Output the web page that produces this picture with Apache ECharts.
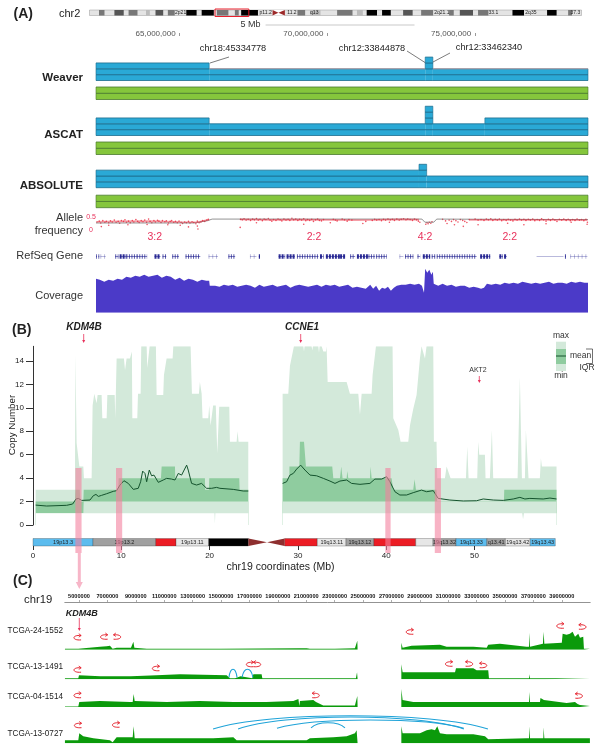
<!DOCTYPE html>
<html><head><meta charset="utf-8">
<style>html,body{margin:0;padding:0;background:#fff}#c{width:602px;height:751px}</style>
<script src="https://cdn.jsdelivr.net/npm/echarts@6/dist/echarts.min.js"></script></head>
<body><div id="c"></div>
<script>
/* ---------- Panel A data (chr2, Mb) ---------- */
const ideogramBands=[[4.7,7.4,'g'],[12.3,16.9,'d'],[19.3,23.7,'g'],[27.9,29.8,'m'],[32.6,36.4,'d'],[38.7,42.1,'g'],[47.8,52.9,'k'],[55.4,61.4,'k'],[62.9,68.6,'g'],[71.8,73.7,'g'],[74.9,83.2,'k'],[102.7,106.5,'g'],[109,114.1,'m'],[122.3,129.9,'g'],[132.1,135,'m'],[136.9,142,'k'],[144.5,148.8,'k'],[154.9,159.6,'d'],[163.8,169.7,'g'],[177.6,179.9,'g'],[182.9,189.4,'d'],[191.9,197,'g'],[208.9,214.6,'k'],[226,230.7,'k'],[236.4,238.3,'g']];
const ideogramLabels=[[45,'2p21'],[87,'p11.2'],[100,'11.2'],[111,'q13'],[174,'2q21.1'],[199.5,'33.1'],[218,'2q35'],[240,'37.3']];
const ideogramCentromere=[90.4,93.3,96.5];
const ideogramView=[62,78.7];
const genomeTicks=[65,70,75];
const weaverTotal=[[62.17,66,3],[66,73.31,2],[73.31,73.57,4],[73.57,78.82,2]];
const weaverLossA=[[66,2],[73.31,2]];
const weaverLossB=[[73.57,2],[78.82,2]];
const ascatTotal=[[62.17,66,3],[66,73.31,2],[73.31,73.57,5],[73.57,75.33,2],[75.33,78.82,3]];
const absoluteTotal=[[62.17,73.1,3],[73.1,73.36,4],[73.36,78.82,2]];
const minorAllele=[[62.17,78.82,2]];
const afLine=[[62.17,.27],[65.5,.27],[65.95,.36],[66.1,.42],[73.2,.42],[73.3,.3],[73.6,.3],[73.7,.42],[78.82,.4]];
const afBandLeft=[[62.2,.32],[63,.33],[64,.34],[65,.31],[65.6,.3],[66,.4]];
const afBandMid=[[67.05,.41],[68,.39],[69,.4],[70,.39],[71,.38],[71.6,.39],[72.5,.41],[73.1,.4]];
const afBandRight=[[74.8,.39],[76,.39],[77,.39],[78,.39],[78.8,.38]];
const afPoints=[[62.2,.31],[62.28,.34],[62.33,.27],[62.4,.36],[62.47,.3],[62.52,.33],[62.6,.28],[62.66,.35],[62.72,.31],[62.79,.38],[62.85,.3],[62.92,.33],[62.97,.26],[63.03,.36],[63.1,.33],[63.15,.39],[63.2,.3],[63.27,.34],[63.33,.28],[63.4,.36],[63.45,.31],[63.52,.4],[63.58,.33],[63.63,.29],[63.7,.36],[63.76,.32],[63.82,.38],[63.88,.3],[63.95,.42],[64.0,.33],[64.06,.28],[64.13,.36],[64.18,.31],[64.25,.37],[64.3,.34],[64.37,.29],[64.42,.36],[64.5,.32],[64.55,.35],[64.62,.27],[64.68,.33],[64.73,.36],[64.8,.3],[64.86,.33],[64.92,.28],[64.98,.34],[65.05,.3],[65.1,.25],[65.17,.31],[65.23,.28],[65.3,.33],[65.35,.27],[65.42,.32],[65.48,.29],[65.55,.24],[65.6,.34],[65.66,.28],[65.72,.31],[65.78,.36],[65.85,.33],[65.92,.38],[65.97,.41],[62.6,.18],[62.35,.13],[63.25,.2],[63.9,.21],[64.6,.2],[65.02,.18],[65.3,.12],[65.6,.15],[65.62,.04],[67.06,.41],[67.12,.39],[67.18,.43],[67.25,.38],[67.32,.41],[67.4,.37],[67.47,.42],[67.53,.39],[67.6,.44],[67.66,.38],[67.72,.41],[67.8,.36],[67.86,.42],[67.92,.4],[68.0,.44],[68.06,.38],[68.12,.34],[68.18,.4],[68.26,.37],[68.33,.42],[68.4,.39],[68.46,.35],[68.53,.42],[68.6,.38],[68.67,.41],[68.73,.37],[68.8,.45],[68.86,.39],[68.93,.42],[69.0,.37],[69.06,.41],[69.13,.38],[69.2,.43],[69.27,.36],[69.33,.4],[69.4,.37],[69.47,.41],[69.53,.33],[69.6,.39],[69.67,.42],[69.73,.37],[69.8,.35],[69.87,.4],[70.2,.41],[70.27,.38],[70.33,.35],[70.5,.42],[70.58,.39],[70.67,.34],[70.73,.4],[70.83,.38],[71.3,.33],[71.52,.37],[71.6,.41],[71.67,.38],[71.75,.4],[71.83,.36],[71.9,.41],[71.97,.38],[72.05,.42],[72.13,.39],[72.2,.41],[72.27,.37],[72.35,.42],[72.43,.38],[72.5,.41],[72.58,.43],[72.66,.39],[72.72,.42],[72.8,.4],[72.88,.37],[72.95,.42],[73.02,.39],[73.08,.34],[73.13,.3],[73.33,.22],[73.37,.28],[73.41,.24],[73.45,.3],[73.5,.26],[73.54,.32],[67.05,.1],[67.6,.28],[69.2,.22],[70.1,.28],[72.1,.3],[71.2,.25],[73.9,.41],[74.0,.35],[74.05,.25],[74.12,.38],[74.2,.33],[74.27,.4],[74.35,.36],[74.42,.31],[74.5,.4],[74.58,.37],[74.65,.33],[74.72,.29],[74.8,.4],[75.0,.42],[75.1,.38],[75.2,.4],[75.3,.37],[75.38,.42],[75.45,.39],[75.53,.43],[75.6,.37],[75.68,.41],[75.75,.38],[75.82,.42],[75.9,.36],[75.97,.4],[76.05,.37],[76.12,.41],[76.2,.38],[76.28,.35],[76.35,.41],[76.42,.38],[76.5,.42],[76.57,.38],[76.65,.41],[76.72,.37],[76.8,.41],[76.87,.38],[76.95,.42],[77.02,.36],[77.1,.4],[77.18,.37],[77.25,.43],[77.32,.39],[77.4,.34],[77.48,.41],[77.55,.37],[77.63,.42],[77.7,.38],[77.77,.33],[77.85,.41],[77.93,.38],[78.0,.42],[78.08,.37],[78.15,.41],[78.22,.36],[78.3,.4],[78.38,.37],[78.45,.42],[78.53,.38],[78.6,.4],[78.68,.36],[78.75,.41],[78.8,.3],[74.3,.2],[74.6,.14],[75.1,.2],[76.1,.26],[76.65,.2],[77.4,.24],[78.25,.3],[78.79,.22]];
const geneTracks=[[62.17,62.2,2],[62.25,62.28,2],[62.32,62.5,1],[62.82,62.93,2],[62.97,63.2,3],[63.2,63.55,2],[63.55,63.9,2],[64.15,64.35,3],[64.42,64.55,2],[64.75,64.98,2],[65.2,65.7,2],[65.98,66.3,1],[66.65,66.88,2],[67.38,67.6,1],[67.68,67.72,3],[68.35,68.57,3],[68.62,68.9,3],[68.97,69.7,2],[69.75,69.87,3],[69.95,70.43,3],[70.43,70.6,3],[70.77,70.94,2],[71.0,71.39,3],[71.39,71.62,2],[71.65,72.01,2],[72.44,72.57,1],[72.63,72.91,2],[73.05,73.14,2],[73.23,73.48,3],[73.53,73.65,2],[73.7,75.05,2],[75.17,75.51,3],[75.82,75.94,3],[75.98,76.07,3],[77.08,77.99,0],[78.04,78.07,3],[78.22,78.8,1]];
const coverage=[[62.17,34],[62.3,33],[62.45,31],[62.6,33],[62.75,32],[62.9,34],[63.05,33],[63.2,36],[63.35,35],[63.5,37],[63.65,36],[63.8,38],[63.95,36],[64.1,37],[64.25,38],[64.4,35],[64.55,37],[64.7,36],[64.85,33],[65.0,35],[65.15,32],[65.3,34],[65.45,33],[65.6,31],[65.75,33],[65.9,32],[66.0,32],[66.02,27],[66.2,27],[66.35,26],[66.5,28],[66.65,27],[66.8,28],[66.95,26],[67.1,27],[67.25,28],[67.4,27],[67.55,25],[67.7,28],[67.85,26],[68.0,27],[68.15,28],[68.3,26],[68.45,27],[68.6,28],[68.75,25],[68.9,27],[69.05,28],[69.2,27],[69.35,26],[69.5,27],[69.65,28],[69.8,26],[69.95,28],[70.1,27],[70.25,28],[70.4,26],[70.55,27],[70.7,28],[70.85,25],[71.0,26],[71.15,25],[71.3,24],[71.45,28],[71.55,24],[71.65,27],[71.75,22],[71.85,25],[71.95,24],[72.05,26],[72.15,22],[72.25,25],[72.35,27],[72.5,28],[72.65,28],[72.8,29],[72.95,28],[73.1,29],[73.2,27],[73.27,20],[73.31,44],[73.38,40],[73.45,43],[73.52,38],[73.57,41],[73.6,29],[73.75,27],[73.9,29],[74.05,27],[74.2,28],[74.35,26],[74.5,27],[74.65,27],[74.8,25],[74.95,26],[75.1,25],[75.2,24],[75.3,25],[75.4,29],[75.55,28],[75.7,29],[75.85,28],[76.0,30],[76.15,29],[76.3,30],[76.45,29],[76.6,31],[76.75,30],[76.9,29],[77.05,30],[77.2,29],[77.35,30],[77.5,31],[77.65,29],[77.8,30],[77.95,30],[78.1,29],[78.25,31],[78.4,30],[78.55,31],[78.7,30],[78.82,30]];

/* ---------- Panel B data (chr19, Mb / copy number) ---------- */
const maxLeft=[[.3,3],[4.75,3],[4.8,14.6],[4.94,7],[5.13,7],[5.25,5],[5.7,5],[5.77,4],[6.64,4],[6.75,10.2],[6.94,11.2],[7.13,11.1],[7.2,10.4],[7.32,11.1],[7.77,11.1],[7.85,9.1],[8.34,9.1],[8.42,11.1],[9.25,11.1],[9.32,9.1],[9.47,14.2],[10.3,14.2],[10.42,13.2],[10.6,14.2],[10.98,14.2],[11.2,14.8],[11.25,9.1],[11.81,9.1],[11.89,11.2],[12.19,11.2],[12.26,15.25],[12.87,15.25],[12.94,13.4],[13.13,13.4],[13.21,15.25],[13.92,15.25],[14,11.1],[14.75,11.1],[14.83,12.8],[15.13,14.2],[15.81,14.2],[15.89,15.25],[17.85,15.25],[18,11.2],[18.79,11.2],[18.9,12.2],[19.1,11.2],[19.2,9.1],[19.85,9.1],[19.96,10.2],[20.11,8.5],[20.26,8.5],[20.4,10.2],[20.7,10.2],[20.87,6.1],[20.98,6.1],[21.09,10.1],[22.23,10.1],[22.3,7.1],[23.06,7.1],[23.17,8],[23.28,7.1],[24.38,7.1]];
const q3Left=[[.3,2],[4.75,2],[4.8,3],[5.3,3],[5.36,2],[5.7,2],[5.74,3],[9.66,3],[9.7,4],[14.49,4],[14.57,5],[16.08,5],[16.11,4],[19.47,4],[19.5,3],[19.92,3],[19.96,4],[23.36,4],[23.4,3],[24.38,3]];
const q1Left=[[.3,1],[5.7,1],[5.74,2],[24.38,2]];
const minLeft=[[.3,1],[20.55,1],[20.6,.1],[20.65,1],[24.38,1]];
const meanLeft=[[.3,1.7],[1.55,1.62],[3.81,1.68],[4.49,1.79],[4.87,2.22],[5.13,2.27],[5.51,2.1],[6.45,2.13],[6.83,2.5],[7.13,2.61],[7.4,2.44],[7.77,2.53],[8.34,2.67],[9.09,2.87],[9.47,2.93],[9.85,3.41],[10.3,3.78],[10.79,3.55],[11.36,3.04],[11.92,3.13],[12.19,3.69],[12.42,4.6],[12.68,4.4],[12.87,3.69],[13.17,4.69],[13.43,4.2],[13.7,4.26],[14.19,3.64],[14.75,3.84],[15.13,3.98],[15.32,3.84],[15.7,3.92],[16.08,3.84],[16.45,4.4],[16.83,4.26],[17.4,5.11],[17.58,4.69],[17.96,3.55],[18.53,3.41],[19.09,3.55],[19.66,3.13],[20.23,3.13],[20.79,3.21],[21.17,3.13],[22.68,3.04],[23.81,2.9],[24.38,2.9]];
const maxRight=[[28.27,11.2],[28.91,11.2],[29.1,13.6],[29.55,15.25],[30.61,15.25],[30.69,14.8],[30.76,15.25],[31.55,15.25],[31.63,14.9],[31.7,15.25],[32.31,15.25],[32.39,14.7],[32.46,15.25],[32.69,15.25],[32.88,14.8],[33.18,14.8],[33.25,15.25],[33.37,12.2],[35.52,12.2],[35.89,11.2],[36.84,11.2],[37.03,9.4],[37.22,11.2],[38.35,11.2],[38.46,12.8],[38.84,15.25],[40.72,15.25],[40.8,9.1],[41.37,8.1],[41.63,7.1],[42.5,7.1],[42.69,8.5],[43.06,9.9],[43.44,11.1],[43.82,14.2],[44,15.25],[44.2,15.25],[44.39,14.2],[44.57,15.25],[45.33,15.25],[45.4,7.1],[45.7,7.1],[45.78,4],[46.65,4],[46.84,5],[47.03,5],[47.29,4],[49.03,4],[49.18,6.7],[49.33,4],[50.31,4],[50.42,7.1],[50.54,6],[51.18,6],[51.25,4],[51.74,4],[51.97,8.1],[52.12,4],[54.88,4],[55.14,12.6],[55.37,4],[55.71,4],[55.82,8.1],[56.01,8.1],[56.12,4],[57.4,4],[57.52,5.7],[57.63,5],[59.29,5]];
const q3Right=[[28.27,4],[29.03,4],[29.04,5],[30.16,5],[30.23,7.1],[30.69,7.1],[30.91,5],[33.89,5],[34.01,4],[34.76,4],[34.91,5],[35.06,4],[35.52,4],[35.59,4.6],[35.71,4],[38.16,4],[38.23,5],[38.35,4],[40.61,4],[40.8,3],[43.06,3],[43.21,3.9],[43.37,3],[45.7,3],[45.78,2],[53.33,2],[53.37,3],[59.29,3]];
const q1Right=[[28.27,2],[59.29,2]];
const minRight=[[28.27,1],[55.4,1],[55.5,.5],[55.6,1],[59.29,1]];
const meanRight=[[28.27,3.55],[28.72,3.69],[29.1,4.26],[29.48,4.4],[29.86,4.77],[30.31,5.11],[30.8,4.69],[31.37,4.26],[32.12,4.2],[32.88,3.98],[33.63,3.75],[34.2,3.55],[34.76,3.75],[35.52,3.84],[36.08,3.55],[37.03,3.47],[38.16,3.55],[38.72,3.92],[39.48,3.92],[40.05,4.12],[40.42,3.69],[40.99,2.84],[41.55,2.56],[42.31,2.56],[43.06,2.76],[44,2.98],[44.57,2.84],[45.33,2.93],[45.89,2.27],[47.21,2.13],[48.73,2.05],[50.23,2.07],[50.99,2.22],[52.12,2.13],[53.25,2.1],[54.39,2.22],[55.14,2.36],[55.71,2.22],[56.27,2.27],[57.78,2.22],[58.54,2.3],[59.29,2.22]];
const pinkRegions=[[4.8,5.5],[9.4,10.1],[39.9,40.5],[45.5,46.2]];
const cytobands=[[0,6.8,'blue','19p13.3'],[6.8,13.9,'grey','19p13.2'],[13.9,16.2,'red',''],[16.2,19.9,'light','19p13.11'],[19.9,24.4,'black',''],[28.5,32.2,'red',''],[32.2,35.45,'light','19q13.11'],[35.45,38.6,'grey','19q13.12'],[38.6,43.35,'red',''],[43.35,45.3,'light',''],[45.3,47.9,'grey','19q13.32'],[47.9,51.4,'blue','19q13.33'],[51.4,53.5,'grey','q13.41'],[53.5,56.3,'light','19q13.42'],[56.3,59.15,'blue','19q13.43']];
const centromere19=[24.4,26.5,28.5];

/* ---------- Panel C data (chr19, Mb / read depth) ---------- */
const sampleNames=['TCGA-24-1552','TCGA-13-1491','TCGA-04-1514','TCGA-13-0727'];
const positionTicks=[5,7,9,11,13,15,17,19,21,23,25,27,29,31,33,35,37,39];
const depthLeft1=[[4.01,1],[4.95,1],[5,3],[6.48,3],[6.95,3.5],[7.18,4],[7.32,4],[7.37,1],[7.65,2],[8.66,2],[8.73,2],[8.83,8],[8.9,2],[9.77,1],[15,1],[20.56,1.5],[21.03,1.5],[21.26,1],[23.02,1],[24.43,1.5],[24.55,2],[24.6,9],[24.62,9]];
const depthRight1=[[27.7,7],[27.79,2],[28.42,4],[30.42,5],[30.89,3],[32.77,3],[33.71,2],[33.82,5],[34.64,6],[36.52,3],[36.69,3],[36.71,17],[36.76,3],[37.67,6],[37.72,18],[37.77,6],[39,7],[39.06,16],[39.34,15],[39.57,16],[39.76,18],[39.93,13],[40.16,16],[40.28,12],[40.51,13],[40.56,1],[40.98,1]];
const depthLeft2=[[4.01,1],[4.95,1],[5,4],[6.5,3],[8.66,3],[8.8,4],[10.47,4],[10.52,6],[12.11,5],[12.23,4],[15.4,4],[15.63,1],[15.99,1],[16.06,3],[16.38,3],[16.46,1],[17.2,1],[17.28,5],[17.86,5],[17.91,1],[24.5,1],[24.58,7],[24.62,7]];
const depthRight2=[[27.7,15],[27.79,7],[31.48,7],[31.55,11],[32.77,11],[33,9],[33.82,9],[33.87,1],[36.69,1],[36.71,5],[36.76,1],[37.7,1],[37.72,3],[37.77,1],[40.98,1]];
const depthLeft3=[[4.01,.5],[4.95,.5],[5.02,5],[6.48,6],[8.59,5],[8.78,5],[8.85,13],[8.92,6],[11.17,5],[13.5,6],[15.87,5],[18.2,5],[20.09,6],[20.21,8],[20.45,8],[20.52,1],[20.56,6],[21.5,7],[21.69,5],[22.2,1.5],[24.43,1.5],[24.55,2],[24.6,11],[24.62,11]];
const depthRight3=[[27.7,18],[27.79,7],[28.54,5],[32.3,5],[36.52,5],[36.69,5],[36.71,15],[36.76,5],[37.46,5],[37.5,9],[37.74,7],[37.84,5],[39.34,4],[39.93,5],[40.04,7],[40.11,3],[40.28,2],[40.98,1]];
const depthLeft4=[[4.01,3],[4.95,3],[5.02,10],[5.3,7],[6.01,5],[7.18,3],[7.32,3],[7.37,1],[7.65,6],[8.59,6],[8.78,6],[8.85,17],[8.92,5],[14.46,5],[14.51,7],[15.87,6],[16.1,3],[21.03,3],[21.26,5],[22.91,6],[23.85,7],[24.43,10],[24.55,13],[24.6,14],[24.62,14]];
const depthRight4=[[27.7,17],[27.79,10],[29.01,10],[29.48,13],[29.83,14],[30.07,13],[30.23,17],[30.42,10],[30.89,9],[32.77,9],[33.59,7],[33.71,9],[33.82,4],[36.52,5],[36.69,5],[36.71,17],[36.76,5],[37.7,5],[37.72,16],[37.77,5],[40.98,5]];
const breakpoints1=[[4.9,12,-1],[6.77,12.7,-1],[7.68,12.7,1],[28.3,17.7,-1],[38.9,23.7,-1],[40.45,22.7,1]];
const breakpoints2=[[4.9,9.3,-1],[10.42,10.8,-1],[17.04,14.8,-1],[17.54,14.8,1],[31.06,15.3,-1],[32.47,15.3,1],[33.46,13.8,1]];
const breakpoints3=[[4.9,11.5,-1],[21.67,11.5,1],[40.2,11,1]];
const breakpoints4=[[4.93,17.8,-1],[7.61,18.3,-1]];
const arcs2=[[15.56,16.13,2,10],[16.48,17.25,2,10]];
const arcs4=[[14.44,33.8,14.3,27.6],[16.2,32.1,14.3,26.3],[18.94,32.1,15,23.3],[21.34,23.73,15.5,20.6]];

/* ---------- Helpers ---------- */
const FONT='"Liberation Sans",Arial,sans-serif';
const COL={blue:'#2aa9d6',blueEdge:'#1d6d8e',green:'#85c63c',greenEdge:'#4a7a2e',cov:'#4b3ac8',gene:'#18188c',
  light:'#d3e9da',dark:'#8fcc9f',mean:'#14532d',depth:'#0b9a0b',arc:'#1fa3d8',bp:'#e5242f',red:'#e8315b',pink:'#f4809f'};
const IDEO={g:'#777',d:'#555',m:'#bbb',k:'#000'};
const CYTO={blue:'#5cbcee',grey:'#a0a0a0',red:'#ec1c24',light:'#e6e6e6',black:'#000'};
const option={animation:false,backgroundColor:'#fff',textStyle:{fontFamily:FONT},grid:[],xAxis:[],yAxis:[],series:[],graphic:{elements:[]}};
function addGrid(left,top,right,bottom,xMin,xMax,yMin,yMax,xExtra,yExtra){
  const i=option.grid.length;
  option.grid.push({left,top,width:right-left,height:bottom-top,containLabel:false,outerBoundsMode:'none'});
  option.xAxis.push(Object.assign({type:'value',gridIndex:i,min:xMin,max:xMax,show:false,splitLine:{show:false}},xExtra||{}));
  option.yAxis.push(Object.assign({type:'value',gridIndex:i,min:yMin,max:yMax,show:false,splitLine:{show:false}},yExtra||{}));
  return i;
}
function area(g,data,color){option.series.push({type:'line',xAxisIndex:g,yAxisIndex:g,data,symbol:'none',lineStyle:{width:0},areaStyle:{color,opacity:1},silent:true});}
function line(g,data,color,width,opacity,z){option.series.push({type:'line',xAxisIndex:g,yAxisIndex:g,data,symbol:'none',z:z||3,lineStyle:{color,width,opacity:opacity==null?1:opacity},silent:true});}
function custom(g,data,renderItem,z){option.series.push({type:'custom',xAxisIndex:g,yAxisIndex:g,data,renderItem,silent:true,z:z||2,clip:false});}
function txt(text,x,y,size,opts){opts=opts||{};
  option.graphic.elements.push({type:'text',silent:true,z:100,rotation:opts.rotation||0,x,y,style:{text,x:0,y:0,font:(opts.style||'normal')+' '+(opts.weight||'normal')+' '+size+'px '+FONT,fill:opts.color||'#222',
    textAlign:opts.align||'center',align:opts.align||'center',textVerticalAlign:'middle',verticalAlign:'middle',textBaseline:'middle'}});}
function seg(x1,y1,x2,y2,color,width){option.graphic.elements.push({type:'line',silent:true,z:100,shape:{x1,y1,x2,y2},style:{stroke:color,lineWidth:width||.7}});}
function arrow(x,y1,y2,color,width,head){seg(x,y1,x,y2-head,color,width);
  option.graphic.elements.push({type:'polygon',silent:true,z:100,shape:{points:[[x-head*.5,y2-head],[x+head*.5,y2-head],[x,y2]]},style:{fill:color}});}

/* copy-number track drawn as stacked rows; verticals only where no neighbour continues the row */
function copyRows(g,data,fill,edge){
  custom(g,data,(p,api)=>{const a=api.value(0),b=api.value(1),n=api.value(2),kids=[];
    const prev=p.dataIndex>0?data[p.dataIndex-1][2]:0,next=p.dataIndex<data.length-1?data[p.dataIndex+1][2]:0;
    for(let r=0;r<n;r++){const s=api.coord([a,r+1]),e=api.coord([b,r]);
      kids.push({type:'rect',shape:{x:s[0],y:s[1],width:e[0]-s[0],height:e[1]-s[1]},style:{fill}});
      kids.push({type:'line',shape:{x1:s[0],y1:s[1],x2:e[0],y2:s[1]},style:{stroke:edge,lineWidth:.8}});
      kids.push({type:'line',shape:{x1:s[0],y1:e[1],x2:e[0],y2:e[1]},style:{stroke:edge,lineWidth:.8}});
      if(prev<=r)kids.push({type:'line',shape:{x1:s[0],y1:s[1],x2:s[0],y2:e[1]},style:{stroke:edge,lineWidth:.6}});
      if(next<=r)kids.push({type:'line',shape:{x1:e[0],y1:s[1],x2:e[0],y2:e[1]},style:{stroke:edge,lineWidth:.6}});
    }
    return {type:'group',children:kids};});
}

/* ---------- Panel A ---------- */
const gI=addGrid(89.5,10,581.5,15.5,0,243,0,1);
custom(gI,[[0,243]],(p,api)=>{const s=api.coord([0,1]),e=api.coord([243,0]);
  return {type:'rect',shape:{x:s[0],y:s[1],width:e[0]-s[0],height:e[1]-s[1]},style:{fill:'#e4e4e4',stroke:'#999',lineWidth:.5}};});
custom(gI,ideogramBands.map(d=>d.slice(0,2)),(p,api)=>{const s=api.coord([api.value(0),1]),e=api.coord([api.value(1),0]);
  return {type:'rect',shape:{x:s[0],y:s[1],width:e[0]-s[0],height:e[1]-s[1]},style:{fill:IDEO[ideogramBands[p.dataIndex][2]]}};});
custom(gI,[ideogramCentromere],(p,api)=>{const a=api.coord([api.value(0),1]),a0=api.coord([api.value(0),0]),m=api.coord([api.value(1),.5]),b=api.coord([api.value(2),1]),b0=api.coord([api.value(2),0]);
  return {type:'group',children:[{type:'rect',shape:{x:a[0],y:a[1],width:b[0]-a[0],height:b0[1]-b[1]},style:{fill:'#fff'}},
    {type:'polygon',shape:{points:[a,a0,m]},style:{fill:'#9c2a2a'}},{type:'polygon',shape:{points:[b,b0,m]},style:{fill:'#9c2a2a'}}]};},3);
custom(gI,ideogramLabels.map(d=>[d[0],.5]),(p,api)=>{const c=api.coord([api.value(0),.5]);
  return {type:'text',style:{text:ideogramLabels[p.dataIndex][1],x:c[0],y:c[1],fill:'#222',font:'5px '+FONT,textAlign:'center',align:'center',textVerticalAlign:'middle',verticalAlign:'middle'}};},3);
custom(gI,[ideogramView],(p,api)=>{const s=api.coord([api.value(0),1]),e=api.coord([api.value(1),0]);
  return {type:'rect',shape:{x:s[0],y:s[1]-1,width:e[0]-s[0],height:e[1]-s[1]+2},style:{fill:'none',stroke:'#e8202c',lineWidth:1}};},4);

const X0=96,X1=588,MB0=62.17,MB1=78.82;
const gT=addGrid(X0,20,X1,36,MB0,MB1,0,1,{show:true,axisLine:{show:false},
  axisTick:{show:true,inside:true,length:3,lineStyle:{color:'#999',width:1},customValues:genomeTicks},
  axisLabel:{show:true,inside:true,margin:-3,align:'right',padding:[0,4,0,0],customValues:genomeTicks,fontSize:8,color:'#555',fontFamily:FONT,lineHeight:10,formatter:v=>(v*1e6).toLocaleString('en-US')}});
option.series.push({type:'line',xAxisIndex:gT,yAxisIndex:gT,data:[],symbol:'none'});

const RH=5.85;
[[80.5,weaverTotal],[135.5,ascatTotal],[187.7,absoluteTotal]].forEach((t,i)=>{
  const g=addGrid(X0,t[0]-RH*5,X1,t[0],MB0,MB1,0,5);
  copyRows(g,t[1],COL.blue,COL.blueEdge);
  if(i===0){line(g,weaverLossA,'#d9a0a0',.8,1,4);line(g,weaverLossB,'#d9a0a0',.8,1,4);}
});
[[99.5],[154.5],[207.7]].forEach(t=>{
  copyRows(addGrid(X0,t[0]-12.5,X1,t[0],MB0,MB1,0,2),minorAllele,COL.green,COL.greenEdge);});

const gAF=addGrid(X0,217,X1,230,MB0,MB1,0,.5);
line(gAF,afLine,'#666',.7);
[afBandLeft,afBandMid,afBandRight].forEach(b=>line(gAF,b,'#e8283c',1.6,.45));
option.series.push({type:'scatter',xAxisIndex:gAF,yAxisIndex:gAF,data:afPoints,symbolSize:1.6,clip:false,itemStyle:{color:'#e8283c',opacity:.8},silent:true});

const gG=addGrid(X0,254,X1,259,MB0,MB1,0,1);
custom(gG,geneTracks,(p,api)=>{const d=api.value(2),s=api.coord([api.value(0),.5]),e=api.coord([api.value(1),.5]);
  const kids=[{type:'line',shape:{x1:s[0],y1:s[1],x2:e[0],y2:e[1]},style:{stroke:COL.gene,lineWidth:1,opacity:d>=2?.55:.3}}];
  if(d>0)kids.push({type:'line',shape:{x1:s[0],y1:s[1],x2:e[0],y2:e[1]},style:{stroke:COL.gene,lineWidth:4.5,lineDash:d==3?[2,1]:d==2?[1,1.5]:[.8,3],opacity:d==3?.9:d==2?.7:.35}});
  return {type:'group',children:kids};});

const gC=addGrid(X0,267.7,X1,312.7,MB0,MB1,0,45);
area(gC,coverage,COL.cov);

/* ---------- Panel B ---------- */
const BL=33,BR=562.8,BM=60;
const gB=addGrid(BL,346.3,BR,525,0,BM,0,15.25,{},{show:true,interval:2,axisLine:{show:true,lineStyle:{color:'#333',width:1}},axisTick:{show:true,length:7,lineStyle:{color:'#333'}},
  axisLabel:{show:true,fontSize:8,color:'#222',margin:9,fontFamily:FONT,showMaxLabel:false}});
[[maxLeft,q3Left,q1Left,minLeft,meanLeft],[maxRight,q3Right,q1Right,minRight,meanRight]].forEach(b=>{
  area(gB,b[0],COL.light);area(gB,b[1],COL.dark);area(gB,b[2],COL.light);area(gB,b[3],'#fff');line(gB,b[4],COL.mean,1);
});
const gK=addGrid(BL,538.5,BR,546,0,BM,0,1,{show:true,position:'bottom',offset:4,interval:10,axisLine:{show:false},axisTick:{show:true,length:4,lineStyle:{color:'#333'}},
  axisLabel:{show:true,fontSize:8,color:'#222',margin:2,fontFamily:FONT,showMaxLabel:false}});
custom(gK,cytobands.map(d=>d.slice(0,2)),(p,api)=>{const d=cytobands[p.dataIndex],s=api.coord([api.value(0),1]),e=api.coord([api.value(1),0]);
  const kids=[{type:'rect',shape:{x:s[0],y:s[1],width:e[0]-s[0],height:e[1]-s[1]},style:{fill:CYTO[d[2]],stroke:'#333',lineWidth:.3}}];
  if(d[3])kids.push({type:'text',style:{text:d[3],x:(s[0]+e[0])/2,y:(s[1]+e[1])/2,fill:'#222',font:'5.5px '+FONT,textAlign:'center',align:'center',textVerticalAlign:'middle',verticalAlign:'middle'}});
  return {type:'group',children:kids};});
custom(gK,[centromere19],(p,api)=>{const a=api.coord([api.value(0),1]),a0=api.coord([api.value(0),0]),m=api.coord([api.value(1),.5]),b=api.coord([api.value(2),1]),b0=api.coord([api.value(2),0]);
  return {type:'group',children:[{type:'polygon',shape:{points:[a,a0,m]},style:{fill:'#8e2f2f'}},{type:'polygon',shape:{points:[b,b0,m]},style:{fill:'#8e2f2f'}}]};});
const gP=addGrid(BL,468,BR,553,0,BM,0,1);
custom(gP,pinkRegions,(p,api)=>{const s=api.coord([api.value(0),1]),e=api.coord([api.value(1),0]);
  return {type:'rect',shape:{x:s[0],y:s[1],width:e[0]-s[0],height:e[1]-s[1]},style:{fill:COL.pink,opacity:.6}};},10);

/* ---------- Panel C ---------- */
const CL=64.8,CR=590.2;
const gH=addGrid(CL,590,CR,602,4,41,0,1,{show:true,axisLine:{show:true,lineStyle:{color:'#777',width:.8}},
  axisTick:{show:true,inside:true,length:2,lineStyle:{color:'#777',width:.6},customValues:positionTicks},
  axisLabel:{show:true,inside:true,margin:3,customValues:positionTicks,fontSize:5.6,fontWeight:'bold',color:'#111',fontFamily:FONT,formatter:v=>String(v*1000000)}});
option.series.push({type:'line',xAxisIndex:gH,yAxisIndex:gH,data:[],symbol:'none'});
function breakpointRender(){return (p,api)=>{const c=api.coord([api.value(0),api.value(1)]),d=api.value(2),x=c[0],y=c[1];
  return {type:'group',children:[
    {type:'bezierCurve',shape:{x1:x-d*3.5,y1:y+2.2,x2:x-d*3.5,y2:y-2.2,cpx1:x+d*6,cpy1:y+3,cpx2:x+d*6,cpy2:y-3},style:{stroke:COL.bp,fill:'none',lineWidth:1}},
    {type:'polyline',shape:{points:[[x-d*1.2,y-4],[x-d*3.6,y-2.2],[x-d*1.2,y-.6]]},style:{stroke:COL.bp,fill:'none',lineWidth:.9}}]};};}
function arcRender(){return (p,api)=>{const a=api.value(0),b=api.value(1),h=api.value(2),t=api.value(3);
  const s=api.coord([a,h]),e=api.coord([b,h]),c=api.coord([a,h+(t-h)/.75]);
  return {type:'bezierCurve',shape:{x1:s[0],y1:s[1],x2:e[0],y2:e[1],cpx1:s[0]+(e[0]-s[0])*.2,cpy1:c[1],cpx2:s[0]+(e[0]-s[0])*.8,cpy2:c[1]},style:{stroke:COL.arc,fill:'none',lineWidth:1.1}};};}
[[649.7,depthLeft1,depthRight1,breakpoints1,[]],[679.3,depthLeft2,depthRight2,breakpoints2,arcs2],[707,depthLeft3,depthRight3,breakpoints3,[]],[743.3,depthLeft4,depthRight4,breakpoints4,arcs4]].forEach(r=>{
  const g=addGrid(CL,r[0]-30,CR,r[0],4,41,0,30);
  area(g,r[1],COL.depth);area(g,r[2],COL.depth);
  if(r[4].length)custom(g,r[4],arcRender(),5);
  custom(g,r[3],breakpointRender(),6);
});

/* ---------- Text and pointers ---------- */
txt('(A)',13.5,14,14,{align:'left',weight:'bold'});
txt('chr2',59,14,11,{align:'left'});
txt('5 Mb',240.5,25,9,{align:'left',color:'#333'});
seg(265.6,25,414.5,25,'#bbb',.8);
txt('chr18:45334778',233,48,9.2,{color:'#222'});
txt('chr12:33844878',372,48,9.2,{color:'#222'});
txt('chr12:33462340',489,47,9.2,{color:'#222'});
seg(210,63,229,57,'#444');seg(407,51,425,62.5,'#444');seg(450,53,433,62,'#444');
txt('Weaver',83,78,11.5,{align:'right',weight:'bold'});
txt('ASCAT',83,135,11.5,{align:'right',weight:'bold'});
txt('ABSOLUTE',83,186,11.5,{align:'right',weight:'bold'});
txt('Allele',83,218,11,{align:'right',color:'#333'});
txt('frequency',83,231,11,{align:'right',color:'#333'});
txt('0.5',91,217,7,{color:COL.red});txt('0',91,230,7,{color:COL.red});
txt('3:2',154.7,237,10.5,{color:COL.red});txt('2:2',314,237,10.5,{color:COL.red});txt('4:2',425,237,10.5,{color:COL.red});txt('2:2',509.7,237,10.5,{color:COL.red});
txt('RefSeq Gene',83,256,11,{align:'right',color:'#333'});
txt('Coverage',83,296,11,{align:'right',color:'#333'});

txt('(B)',12,330,14,{align:'left',weight:'bold'});
txt('Copy Number',12,425,9.8,{rotation:Math.PI/2,color:'#222'});
txt('KDM4B',84,327,10,{weight:'bold',style:'italic'});
txt('CCNE1',302,327,10,{weight:'bold',style:'italic'});
arrow(83.7,334,343,COL.red,.8,3);arrow(300.7,334,343,COL.red,.8,3);
txt('AKT2',478,370,7,{color:'#333'});arrow(479.3,376,383,COL.red,.8,3);
option.graphic.elements.push({type:'rect',silent:true,z:100,shape:{x:556,y:341.7,width:10,height:29.3},style:{fill:COL.light}});
option.graphic.elements.push({type:'rect',silent:true,z:100,shape:{x:556,y:349,width:10,height:15},style:{fill:COL.dark}});
seg(556,356,566,356,COL.mean,1);
txt('max',561,335.5,8.5,{color:'#333'});txt('min',561,376,8.5,{color:'#333'});
txt('mean',570,356,8.5,{align:'left',color:'#333'});txt('IQR',587,368,8.5,{color:'#333'});
option.graphic.elements.push({type:'polyline',silent:true,z:100,shape:{points:[[586,349],[592.5,349],[592.5,363.5],[586,363.5]]},style:{stroke:'#333',fill:'none',lineWidth:.7}});
txt('chr19 coordinates (Mb)',280.5,567,10.5,{color:'#222'});
arrow(79.3,553,589,'#f7b6c8',3,7);

txt('(C)',13,581,14,{align:'left',weight:'bold'});
txt('chr19',24,600,11.3,{align:'left',color:'#222'});
txt('KDM4B',65.7,614,9,{align:'left',weight:'bold',style:'italic'});
arrow(79.3,618,631,COL.red,.8,3);
[631,667,697,734].forEach((y,i)=>txt(sampleNames[i],63,y,8.2,{align:'right',color:'#222'}));

const chart=echarts.init(document.getElementById('c'),null,{renderer:'canvas',width:602,height:751});
chart.setOption(option);
</script></body></html>
